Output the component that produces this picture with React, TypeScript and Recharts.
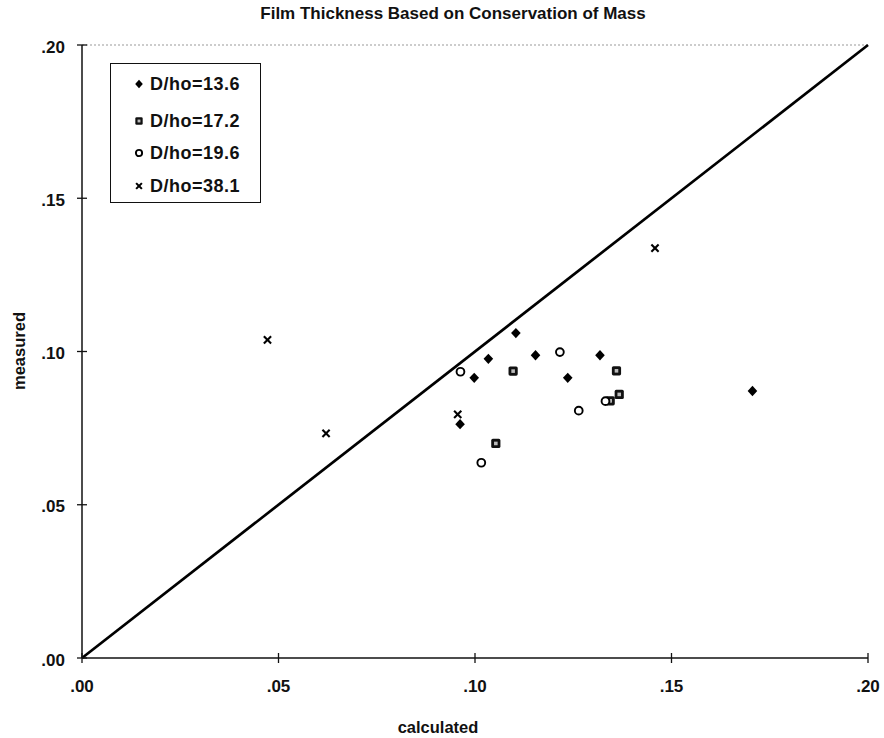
import React from "react";
import {
  ScatterChart, Scatter, XAxis, YAxis, ReferenceLine, Legend,
} from "recharts";

const dho136 = [
  { x: 0.1104, y: 0.1060 },
  { x: 0.1034, y: 0.0976 },
  { x: 0.0998, y: 0.0914 },
  { x: 0.1154, y: 0.0988 },
  { x: 0.1318, y: 0.0988 },
  { x: 0.1236, y: 0.0914 },
  { x: 0.0962, y: 0.0763 },
  { x: 0.1706, y: 0.0871 },
];
const dho172 = [
  { x: 0.1097, y: 0.0936 },
  { x: 0.1360, y: 0.0937 },
  { x: 0.1367, y: 0.0860 },
  { x: 0.1344, y: 0.0839 },
  { x: 0.1053, y: 0.0700 },
];
const dho196 = [
  { x: 0.0963, y: 0.0934 },
  { x: 0.1216, y: 0.0998 },
  { x: 0.1264, y: 0.0807 },
  { x: 0.1332, y: 0.0838 },
  { x: 0.1016, y: 0.0637 },
];
const dho381 = [
  { x: 0.0472, y: 0.1038 },
  { x: 0.0621, y: 0.0733 },
  { x: 0.0956, y: 0.0795 },
  { x: 0.1458, y: 0.1337 },
];

const X_TICKS = [0, 0.05, 0.1, 0.15, 0.2];
const Y_TICKS = [0, 0.05, 0.1, 0.15, 0.2];
const LINE_45 = [{ x: 0, y: 0 }, { x: 0.2, y: 0.2 }];

const W = 884;
const H = 738;
const TOP = 45;
const BOTTOM = 658;
const LEFT = 82;
const FONT = "'Liberation Sans', Arial, sans-serif";

const fmt = (v: number) => v.toFixed(2).replace(/^0/, "");

const Diamond = ({ cx, cy, s = 1 }: any) => (
  <polygon
    points={`${cx},${cy - 5.2 * s} ${cx + 4.8 * s},${cy} ${cx},${cy + 5.2 * s} ${cx - 4.8 * s},${cy}`}
    fill="#000"
  />
);
const Square = ({ cx, cy, s = 1 }: any) => (
  <g>
    <rect x={cx - 4.6 * s} y={cy - 4.6 * s} width={9.2 * s} height={9.2 * s} rx={1.6 * s} fill="#111" />
    <rect x={cx - 1.8 * s} y={cy - 1.8 * s} width={3.6 * s} height={3.6 * s} fill="#bbb" />
  </g>
);
const Ring = ({ cx, cy, s = 1 }: any) => (
  <circle cx={cx} cy={cy} r={3.9 * s} fill="#fff" stroke="#000" strokeWidth={1.9} />
);
const Cross = ({ cx, cy, s = 1 }: any) => (
  <g stroke="#000" strokeWidth={2.1}>
    <line x1={cx - 3.6 * s} y1={cy - 3.6 * s} x2={cx + 3.6 * s} y2={cy + 3.6 * s} />
    <line x1={cx - 3.6 * s} y1={cy + 3.6 * s} x2={cx + 3.6 * s} y2={cy - 3.6 * s} />
  </g>
);

const SERIES = [
  { name: "D/ho=13.6", data: dho136, Mark: Diamond },
  { name: "D/ho=17.2", data: dho172, Mark: Square },
  { name: "D/ho=19.6", data: dho196, Mark: Ring },
  { name: "D/ho=38.1", data: dho381, Mark: Cross },
];

const XTick = (props: any) => {
  const x = props.payload.coordinate;
  return (
    <g>
      <line x1={x} x2={x} y1={BOTTOM - 5} y2={BOTTOM + 5} stroke="#111" strokeWidth={1.3} />
      <text x={x} y={692} textAnchor="middle" fontFamily={FONT} fontWeight="bold" fontSize={17} fill="#111">
        {fmt(props.payload.value)}
      </text>
    </g>
  );
};

const YTick = (props: any) => {
  const y = props.payload.coordinate;
  return (
    <g>
      <line x1={LEFT - 5} x2={LEFT + 5} y1={y} y2={y} stroke="#111" strokeWidth={1.3} />
      <text x={65} y={y + 7.5} textAnchor="end" fontFamily={FONT} fontWeight="bold" fontSize={17} fill="#111">
        {fmt(props.payload.value)}
      </text>
    </g>
  );
};

const LEGEND_ROWS = [20, 57, 89, 122];

const renderLegend = () => (
  <div
    style={{
      width: 151, height: 140, boxSizing: "border-box", border: "1.5px solid #111",
      background: "#fff", position: "relative", fontFamily: FONT, fontWeight: "bold",
      fontSize: 18, letterSpacing: 0.5, color: "#111",
    }}
  >
    {SERIES.map((s, i) => (
      <div key={s.name} style={{ position: "absolute", left: 21, top: LEGEND_ROWS[i] - 12, height: 24, display: "flex", alignItems: "center" }}>
        <svg width={14} height={14} style={{ marginRight: 4 }}>
          <s.Mark cx={7} cy={7} s={0.8} />
        </svg>
        <span>{s.name}</span>
      </div>
    ))}
  </div>
);

export default function App() {
  return (
    <div style={{ position: "fixed", left: 0, top: 0, width: W, height: H, background: "#fff" }}>
      <ScatterChart width={W} height={H} margin={{ top: TOP, right: W - 868, bottom: 0, left: 0 }}>
        <XAxis
          type="number" dataKey="x" domain={[0, 0.2]} ticks={X_TICKS}
          height={H - BOTTOM} tick={XTick} tickLine={false}
          axisLine={{ stroke: "#111", strokeWidth: 1.5 }} allowDataOverflow
        />
        <YAxis
          type="number" dataKey="y" domain={[0, 0.2]} ticks={Y_TICKS}
          width={LEFT} tick={YTick} tickLine={false}
          axisLine={{ stroke: "#111", strokeWidth: 1.5 }} allowDataOverflow
        />
        <ReferenceLine y={0.2} stroke="#999" strokeDasharray="2 2" strokeWidth={1} />
        <ReferenceLine segment={LINE_45} stroke="#000" strokeWidth={2.7} ifOverflow="visible" />
        {SERIES.map((s) => (
          <Scatter
            key={s.name} name={s.name} data={s.data} isAnimationActive={false}
            shape={(p: any) => <s.Mark cx={p.cx} cy={p.cy} />}
          />
        ))}
        <Legend
          layout="vertical" align="center" verticalAlign="middle"
          content={renderLegend}
          wrapperStyle={{ left: 110, top: 63, width: 151, height: 140 }}
        />
      </ScatterChart>
      <svg width={W} height={H} style={{ position: "absolute", left: 0, top: 0, pointerEvents: "none" }}>
        <text x={453} y={19} textAnchor="middle" fontFamily={FONT} fontWeight="bold" fontSize={17} fill="#111">
          Film Thickness Based on Conservation of Mass
        </text>
        <text x={438} y={733} textAnchor="middle" fontFamily={FONT} fontWeight="bold" fontSize={16.5} fill="#111">
          calculated
        </text>
        <text
          x={25} y={351} textAnchor="middle" transform="rotate(-90 25 351)"
          fontFamily={FONT} fontWeight="bold" fontSize={16.5} fill="#111"
        >
          measured
        </text>
      </svg>
    </div>
  );
}
